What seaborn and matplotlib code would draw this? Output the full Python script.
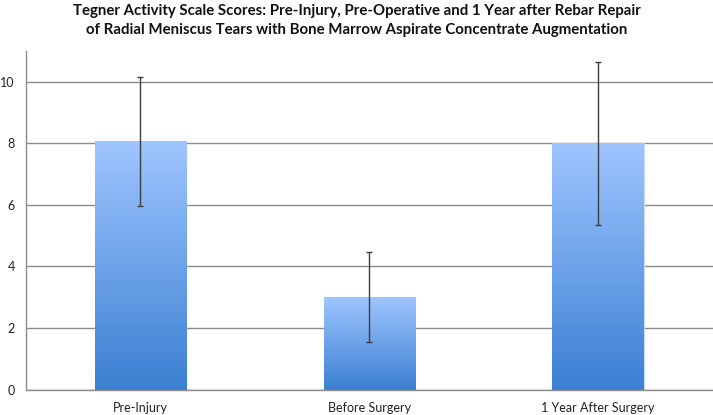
import matplotlib
matplotlib.use('Agg')
import matplotlib.pyplot as plt
import seaborn as sns
import numpy as np
from matplotlib.colors import LinearSegmentedColormap

# data
categories = ['Pre-Injury', 'Before Surgery', '1 Year After Surgery']
mean_scores = [8.07, 3.0, 8.0]
sd_scores = [2.1, 1.47, 2.64]

TITLE = ('Tegner Activity Scale Scores: Pre-Injury, Pre-Operative and 1 Year after Rebar Repair\n'
         'of Radial Meniscus Tears with Bone Marrow Aspirate Concentrate Augmentation')

sns.set_style('white')
plt.rcParams['font.family'] = ['Lato', 'DejaVu Sans']

fig = plt.figure(figsize=(7.13, 4.15), dpi=100)
ax = fig.add_axes([0.0365, 0.0614, 0.963, 0.8156])

sns.barplot(x=categories, y=mean_scores, width=0.4, errorbar=None, ax=ax,
            color='#7aaaf0', zorder=2)

# vertical blue gradient inside each bar, like the spreadsheet original
grad = LinearSegmentedColormap.from_list('bar_grad', ['#3b80d2', '#9fc5ff'])
ramp = np.linspace(0, 1, 256).reshape(-1, 1)
for bar in ax.patches:
    x0, y0 = bar.get_x(), bar.get_y()
    w, h = bar.get_width(), bar.get_height()
    bar.set_facecolor('none')
    bar.set_edgecolor('#c9dcf5')
    bar.set_linewidth(0.8)
    im = ax.imshow(ramp, cmap=grad, origin='lower', aspect='auto',
                   extent=[x0, x0 + w, y0, y0 + h], zorder=2)
    im.set_clip_path(bar)

xpos = ax.get_xticks()
ax.errorbar(xpos, mean_scores, yerr=sd_scores, fmt='none', ecolor='#3d3d3d',
            elinewidth=1.0, capsize=2.5, capthick=1.0, zorder=4)

ax.set_xlim(-0.5, 2.5)
ax.set_ylim(0, 11)
ax.set_yticks([0, 2, 4, 6, 8, 10])
ax.yaxis.grid(True, color='#8c8c8c', linewidth=1.0, zorder=0)
ax.set_axisbelow(True)

for side in ['top', 'right']:
    ax.spines[side].set_visible(False)
for side in ['left', 'bottom']:
    ax.spines[side].set_color('#8c8c8c')
    ax.spines[side].set_linewidth(1.0)

# category boundary ticks on the x axis, labels centered under bars
ax.set_xticks([-0.5, 0.5, 1.5, 2.5], minor=True)
ax.tick_params(axis='x', which='major', length=0, labelsize=9, pad=9, colors='#222222')
ax.tick_params(axis='x', which='minor', length=4, color='#8c8c8c', direction='out')
ax.tick_params(axis='y', length=4, direction='out', labelsize=9, pad=4,
               colors='#8c8c8c', labelcolor='#222222')
ax.set_xlabel('')
ax.set_ylabel('')

fig.text(0.5, 0.99, TITLE, ha='center', va='top', fontsize=10.8, fontweight='bold',
         linespacing=1.45, color='#111111')

fig.savefig('out.png', dpi=100)
